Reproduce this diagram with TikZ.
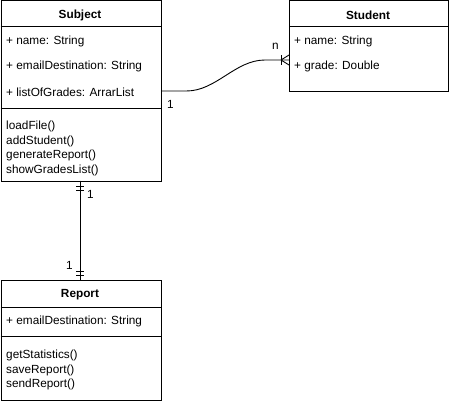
\documentclass[tikz,border=0pt]{standalone}
\usepackage{fontspec}
\setmainfont{Liberation Sans}
\usetikzlibrary{calc}
\begin{document}
\begin{tikzpicture}[x=1pt,y=-1pt,
  box/.style={draw,line width=0.9pt,rectangle,anchor=north west,inner sep=0pt,minimum width=#1},
  head/.style={font=\fontsize{11.8}{13}\selectfont\bfseries,anchor=center},
  txt/.style={font=\fontsize{11.8}{13}\selectfont,anchor=west,inner sep=0pt},
  rule/.style={line width=0.9pt},
  conn/.style={line width=0.9pt}]
\useasboundingbox (0,0) rectangle (449,404);

% Subject class
\node[box=160pt,minimum height=180pt] (subject) at (0.5,0.5) {};
\node[head] (subjectT) at (80,15) {Subject};
\draw[rule] (subject.west |- 0,26) -- (subject.east |- 0,26);
\node[txt] (sa1) at (6,41.5) {+ name: String};
\node[txt] (sa2) at (6,66.5) {+ emailDestination: String};
\node[txt] (sa3) at (6,92.5) {+ listOfGrades: ArrarList};
\draw[rule] (subject.west |- 0,108) -- (subject.east |- 0,108);
\node[txt] (sm1) at (6,126.5) {loadFile()};
\node[txt] (sm2) at (6,141) {addStudent()};
\node[txt] (sm3) at (6,155.5) {generateReport()};
\node[txt] (sm4) at (6,170) {showGradesList()};

% Student class
\node[box=159pt,minimum height=90pt] (student) at (289,0.5) {};
\node[head] (studentT) at (368,15) {Student};
\draw[rule] (student.west |- 0,26) -- (student.east |- 0,26);
\node[txt] (ta1) at (294,41.5) {+ name: String};
\node[txt] (ta2) at (294,66.5) {+ grade: Double};

% Report class
\node[box=160pt,minimum height=120pt] (report) at (0.5,280) {};
\node[head] (reportT) at (80,295) {Report};
\draw[rule] (report.west |- 0,307) -- (report.east |- 0,307);
\node[txt] (ra1) at (6,321.5) {+ emailDestination: String};
\draw[rule] (report.west |- 0,336) -- (report.east |- 0,336);
\node[txt] (rm1) at (6,355.5) {getStatistics()};
\node[txt] (rm2) at (6,370) {saveReport()};
\node[txt] (rm3) at (6,384.5) {sendReport()};

% Subject 1 -- n Student
\coordinate (p1) at (subject.east |- 0,91);
\coordinate (p2) at (student.west |- 0,60);
\draw[conn] (p1) -- ++(25,0) .. controls ++(30,0) and ($(p2)+(-54,0)$) .. ($(p2)+(-24,0)$) -- (p2);
% crow's foot at Student
\draw[conn] ($(p2)+(-8,0)$) -- ($(p2)+(0,-5)$);
\draw[conn] ($(p2)+(-8,0)$) -- ($(p2)+(0,5)$);
\draw[conn] ($(p2)+(-8,-5)$) -- ($(p2)+(-8,5)$);
\node[txt] (ln) at (272,46) {n};
\node[txt] (l1a) at (167,104) {1};

% Subject 1 -- 1 Report
\coordinate (q1) at (80,180.5);
\coordinate (q2) at (80,280);
\draw[conn] (q1) -- (q2);
\draw[conn] (76,186.5) -- (84,186.5);
\draw[conn] (76,190) -- (84,190);
\draw[conn] (76,271.5) -- (84,271.5);
\draw[conn] (76,275) -- (84,275);
\node[txt] (l1b) at (87,194) {1};
\node[txt] (l1c) at (66,265) {1};
\end{tikzpicture}
\end{document}
